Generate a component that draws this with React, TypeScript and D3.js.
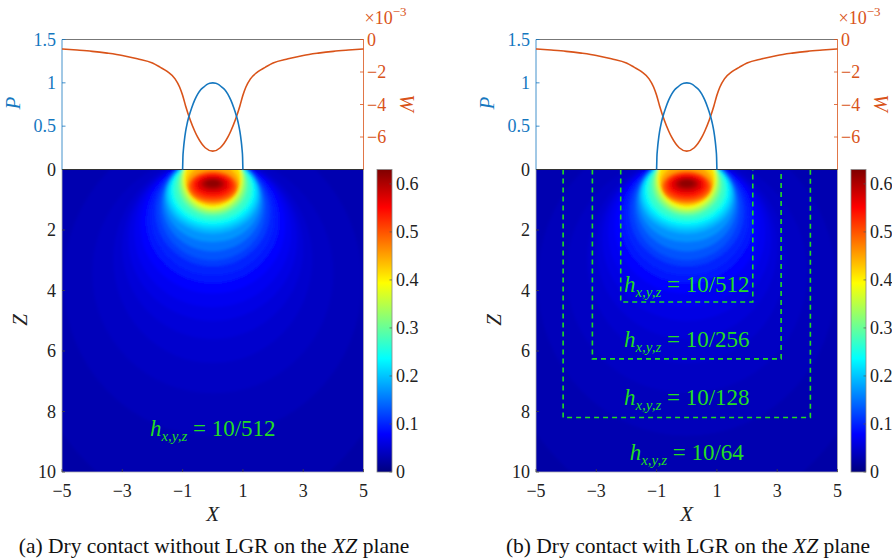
import React from 'react';
import * as d3 from 'd3';

// ---------- data ----------
// contact pressure P (top panel, left axis)
const pX = [-1, -0.99, -0.97, -0.94, -0.9, -0.85, -0.8, -0.7, -0.6, -0.5, -0.4, -0.3, -0.2, -0.1, 0, 0.1, 0.2, 0.3, 0.4, 0.5, 0.6, 0.7, 0.8, 0.85, 0.9, 0.94, 0.97, 0.99, 1];
const pValues = [0, 0.14, 0.24, 0.34, 0.44, 0.53, 0.6, 0.71, 0.8, 0.87, 0.92, 0.95, 0.98, 0.995, 1, 0.995, 0.98, 0.95, 0.92, 0.87, 0.8, 0.71, 0.6, 0.53, 0.44, 0.34, 0.24, 0.14, 0];

// surface displacement W (x 1e-3, right axis)
const wX = [-5, -4.5, -4, -3.5, -3, -2.5, -2, -1.75, -1.5, -1.25, -1.1, -1, -0.9, -0.75, -0.6, -0.5, -0.25, 0, 0.25, 0.5, 0.6, 0.75, 0.9, 1, 1.1, 1.25, 1.5, 1.75, 2, 2.5, 3, 3.5, 4, 4.5, 5];
const wValues = [-0.58, -0.65, -0.73, -0.84, -0.98, -1.19, -1.45, -1.7, -1.98, -2.42, -2.92, -3.43, -4.09, -4.94, -5.63, -6.01, -6.66, -6.87, -6.66, -6.01, -5.63, -4.94, -4.09, -3.43, -2.92, -2.42, -1.98, -1.7, -1.45, -1.19, -0.98, -0.84, -0.73, -0.65, -0.58];

// stress field on the XZ plane, read as contour levels (value, top/bottom depth on the axis, half width)
const levelValue = [0.030, 0.036, 0.042, 0.048, 0.055, 0.062, 0.070, 0.080, 0.090, 0.100, 0.115, 0.130, 0.150, 0.170, 0.190, 0.210, 0.230, 0.250, 0.270, 0.300, 0.330, 0.360, 0.390, 0.420, 0.450, 0.480, 0.510, 0.540, 0.570, 0.600, 0.620];
const levelTop = [-4.0, -1.4, -0.53, -0.46, -0.4, -0.36, -0.355, -0.354, -0.371, -0.38, -0.406, -0.46, -0.45, -0.40, -0.37, -0.36, -0.37, -0.39, -0.41, -0.49, -0.58, -0.67, -0.71, -0.55, -0.18, 0.03, 0.08, 0.13, 0.2, 0.28, 0.35];
const levelBottom = [11.5, 8.8, 7.4, 6.4, 5.6, 5.0, 4.55, 4.1, 3.75, 3.5, 3.2, 3.0, 2.7, 2.4, 2.12, 1.98, 1.85, 1.76, 1.66, 1.52, 1.44, 1.36, 1.28, 1.22, 1.16, 1.1, 1.02, 0.92, 0.8, 0.68, 0.58];
const levelHalfWidth = [6.5, 4.95, 4.0, 3.3, 3.0, 2.8, 2.6, 2.4, 2.2, 2.05, 1.9, 1.76, 1.67, 1.6, 1.55, 1.5, 1.42, 1.35, 1.28, 1.15, 1.07, 1.01, 0.96, 0.92, 0.88, 0.83, 0.76, 0.66, 0.53, 0.38, 0.24];
const fieldFloor = 0.024;
const fieldMax = 0.63;

// LGR refinement boxes (right panel)
const lgrHalfWidth = [2.19, 3.13, 4.1];
const lgrDepth = [4.38, 6.26, 8.2];
const lgrLabels = ['10/512', '10/256', '10/128', '10/64'];
const lgrLabelDepth = [4.05, 5.86, 7.78, 9.6];
const plainLabel = '10/512';
const plainLabelDepth = 8.8;

// ticks
const xTicks = [-5, -3, -1, 1, 3, 5];
const zTicks = [0, 2, 4, 6, 8, 10];
const pTicks = [0.5, 1, 1.5];
const wTicks = [0, -2, -4, -6];
const cTicks = [0, 0.1, 0.2, 0.3, 0.4, 0.5, 0.6];

const captions = [
  { tag: '(a) Dry contact without LGR on the ', lgr: false, center: 214 },
  { tag: '(b) Dry contact with LGR on the ', lgr: true, center: 688 },
];

// ---------- styling ----------
const FONT = "'Liberation Serif', 'Times New Roman', Tinos, serif";
const BLUE = '#1577bf';
const ORANGE = '#D95319';
const GREEN = '#22dd22';
const jetStops = [0, 0.125, 0.375, 0.625, 0.875, 1];
const jetColors = ['#00007f', '#0000ff', '#00ffff', '#ffff00', '#ff0000', '#7f0000'];
const jet = d3.scaleLinear<string>().domain(jetStops.map((t) => t * fieldMax)).range(jetColors).clamp(true);

const minus = (s: string) => s.replace('-', '\u2212');

function HLabel({ x, y, text }: { x: number; y: number; text: string }) {
  return (
    <text x={x} y={y} textAnchor="middle" fill={GREEN} style={{ fontFamily: FONT }} fontSize={23}>
      <tspan fontStyle="italic">h</tspan>
      <tspan fontStyle="italic" fontSize={15} dy={5}>x,y,z</tspan>
      <tspan dy={-5}>{' = ' + text}</tspan>
    </text>
  );
}

function Panel({ left, idx }: { left: number; idx: number }) {
  const right = left + 301.5;
  const topY = 39.5;
  const surfY = 169.5;
  const botY = 472;
  const x = d3.scaleLinear().domain([-5, 5]).range([left, right]);
  const z = d3.scaleLinear().domain([0, 10]).range([surfY, botY]);
  const p = d3.scaleLinear().domain([0, 1.5]).range([surfY, topY]);
  const w = d3.scaleLinear().domain([-8, 0]).range([surfY, topY]);
  const cbX0 = right + 13.5;
  const cbX1 = right + 28.5;
  const c = d3.scaleLinear().domain([0, fieldMax]).range([botY, surfY]);
  const cap = captions[idx];

  const pLine = d3.line<number>().x((_, i) => x(pX[i])).y((v) => p(v)).curve(d3.curveMonotoneX);
  const wLine = d3.line<number>().x((_, i) => x(wX[i])).y((v) => w(v)).curve(d3.curveMonotoneX);

  const clipId = `clip${idx}`;
  const gradId = `grad${idx}`;
  const blurId = `blur${idx}`;
  const tf = { fontFamily: FONT };

  return (
    <g>
      <defs>
        <clipPath id={clipId}>
          <rect x={left} y={surfY} width={right - left} height={botY - surfY} />
        </clipPath>
        <linearGradient id={gradId} x1="0" y1="1" x2="0" y2="0">
          {jetStops.map((t, i) => (
            <stop key={i} offset={t} stopColor={jetColors[i]} />
          ))}
        </linearGradient>
        <filter id={blurId} x="-5%" y="-5%" width="110%" height="110%">
          <feGaussianBlur stdDeviation={1.4} />
        </filter>
      </defs>

      {/* heat field */}
      <g clipPath={`url(#${clipId})`}>
        <g filter={`url(#${blurId})`}>
          <rect x={left - 10} y={surfY - 10} width={right - left + 20} height={botY - surfY + 20} fill={jet(fieldFloor)} />
          {levelValue.map((v, i) => {
            const cz = (levelTop[i] + levelBottom[i]) / 2;
            return (
              <ellipse
                key={i}
                cx={x(0)}
                cy={z(cz)}
                rx={x(levelHalfWidth[i]) - x(0)}
                ry={z(levelBottom[i]) - z(cz)}
                fill={jet(v)}
              />
            );
          })}
        </g>
      </g>
      <rect x={left} y={surfY} width={right - left} height={botY - surfY} fill="none" stroke="#b0b0b0" strokeWidth={0.8} />

      {/* heat field ticks */}
      {xTicks.map((t) => (
        <line key={'xt' + t} x1={x(t)} x2={x(t)} y1={botY} y2={botY - 3} stroke="#444" strokeWidth={0.8} />
      ))}
      {zTicks.map((t) => (
        <line key={'zt' + t} x1={left} x2={left + 3} y1={z(t)} y2={z(t)} stroke="#444" strokeWidth={0.8} />
      ))}

      {/* LGR boxes */}
      {cap.lgr &&
        lgrHalfWidth.map((hw, i) => {
          const path = d3.path();
          path.moveTo(x(-hw), z(0));
          path.lineTo(x(-hw), z(lgrDepth[i]));
          path.lineTo(x(hw), z(lgrDepth[i]));
          path.lineTo(x(hw), z(0));
          return <path key={'box' + i} d={path.toString()} fill="none" stroke={GREEN} strokeWidth={1.6} strokeDasharray="5,4" />;
        })}
      {cap.lgr
        ? lgrLabels.map((t, i) => <HLabel key={'hl' + i} x={x(0)} y={z(lgrLabelDepth[i])} text={t} />)
        : <HLabel x={x(0)} y={z(plainLabelDepth)} text={plainLabel} />}

      {/* top panel frame */}
      <line x1={left} x2={right} y1={topY} y2={topY} stroke="#777" strokeWidth={1} />
      <line x1={left} x2={right} y1={surfY} y2={surfY} stroke="#333" strokeWidth={1} />
      <line x1={left} x2={left} y1={topY} y2={surfY} stroke={BLUE} strokeWidth={0.8} />
      <line x1={right} x2={right} y1={topY} y2={surfY} stroke={ORANGE} strokeWidth={0.8} />
      {pTicks.map((t) => (
        <line key={'pt' + t} x1={left} x2={left + 3.5} y1={p(t)} y2={p(t)} stroke={BLUE} strokeWidth={0.8} />
      ))}
      {wTicks.map((t) => (
        <line key={'wt' + t} x1={right} x2={right - 3.5} y1={w(t)} y2={w(t)} stroke={ORANGE} strokeWidth={0.8} />
      ))}

      {/* curves */}
      <path d={wLine(wValues) || ''} fill="none" stroke={ORANGE} strokeWidth={1.6} />
      <path d={pLine(pValues) || ''} fill="none" stroke={BLUE} strokeWidth={1.6} />

      {/* P axis labels */}
      {pTicks.map((t) => (
        <text key={'pl' + t} x={left - 6} y={p(t)} dy="0.35em" textAnchor="end" fill={BLUE} style={tf} fontSize={18}>
          {String(t)}
        </text>
      ))}
      <text transform={`translate(${left - 42},103) rotate(-90)`} textAnchor="middle" fill={BLUE} style={tf} fontSize={21} fontStyle="italic">
        P
      </text>

      {/* W axis labels */}
      {wTicks.map((t) => (
        <text key={'wl' + t} x={right + 3.5} y={w(t)} dy="0.35em" textAnchor="start" fill={ORANGE} style={tf} fontSize={18}>
          {minus(String(t))}
        </text>
      ))}
      <text x={right + 1} y={24} fill={ORANGE} style={tf} fontSize={18}>
        {'\u00d710'}
        <tspan fontSize={13} dy={-8}>{'\u22123'}</tspan>
      </text>
      <text transform={`translate(${right + 36},103) rotate(90)`} textAnchor="middle" fill={ORANGE} style={tf} fontSize={21} fontStyle="italic">
        W
      </text>

      {/* Z axis */}
      {zTicks.map((t) => (
        <text key={'zl' + t} x={left - 6} y={z(t)} dy="0.35em" textAnchor="end" fill="#222" style={tf} fontSize={18}>
          {String(t)}
        </text>
      ))}
      <text transform={`translate(${left - 35},320) rotate(-90)`} textAnchor="middle" fill="#222" style={tf} fontSize={21} fontStyle="italic">
        Z
      </text>

      {/* X axis */}
      {xTicks.map((t) => (
        <text key={'xl' + t} x={x(t)} y={497} textAnchor="middle" fill="#222" style={tf} fontSize={18}>
          {minus(String(t))}
        </text>
      ))}
      <text x={x(0)} y={521} textAnchor="middle" fill="#222" style={tf} fontSize={21} fontStyle="italic">
        X
      </text>

      {/* colorbar */}
      <rect x={cbX0} y={surfY} width={cbX1 - cbX0} height={botY - surfY} fill={`url(#${gradId})`} stroke="#888" strokeWidth={0.8} />
      {cTicks.map((t) => (
        <g key={'ct' + t}>
          <line x1={cbX1} x2={cbX1 - 2.5} y1={c(t)} y2={c(t)} stroke="#555" strokeWidth={0.7} />
          <text x={cbX1 + 4} y={c(t)} dy="0.35em" fill="#222" style={tf} fontSize={18}>
            {String(t)}
          </text>
        </g>
      ))}

      {/* caption */}
      <text x={cap.center} y={553} textAnchor="middle" fill="#111" style={tf} fontSize={21.5}>
        {cap.tag}
        <tspan fontStyle="italic">XZ</tspan>
        {' plane'}
      </text>
    </g>
  );
}

export default function App() {
  return (
    <svg
      width={892}
      height={559}
      viewBox="0 0 892 559"
      style={{ position: 'absolute', left: 0, top: 0, background: '#fff' }}
    >
      <rect width={892} height={559} fill="#fff" />
      <Panel left={62} idx={0} />
      <Panel left={536} idx={1} />
    </svg>
  );
}
